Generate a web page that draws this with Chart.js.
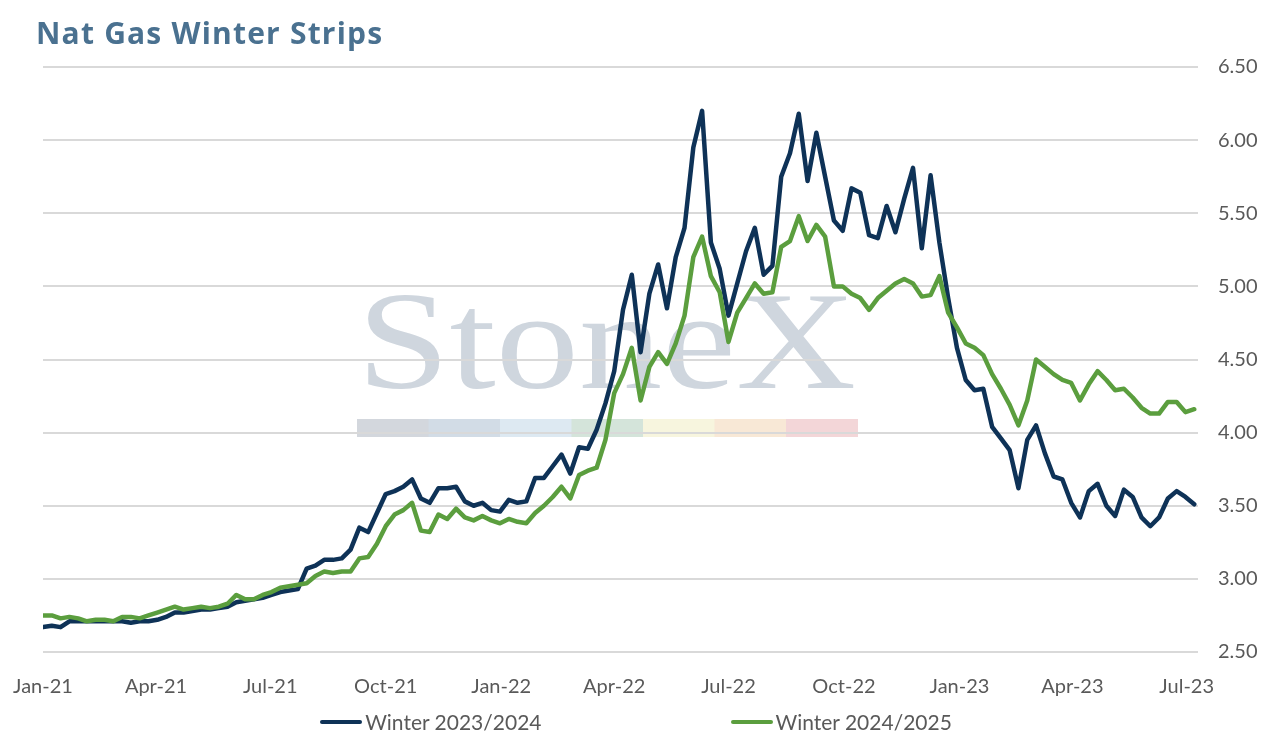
<!DOCTYPE html>
<html>
<head>
<meta charset="utf-8">
<title>Nat Gas Winter Strips</title>
<script src="https://cdn.jsdelivr.net/npm/chart.js@4.4.1/dist/chart.umd.min.js"></script>
<style>
    html, body { margin: 0; padding: 0; background: #fff; }
    #wrap { position: relative; width: 1272px; height: 743px; overflow: hidden; }
    #chart { position: absolute; left: 0; top: 0; }
    #title { position: absolute; left: 36px; top: 13px; margin: 0; font: 700 30px/40px "Open Sans", sans-serif; letter-spacing: 1.2px; color: #4a7190; white-space: nowrap; }
    #legend { position: absolute; left: 0; top: 709px; width: 1272px; display: flex; justify-content: center; gap: 189px; font: 21px Lato, sans-serif; color: #595959; }
    .item { display: flex; align-items: center; white-space: nowrap; }
    .swatch { width: 42px; height: 4px; border-radius: 2px; margin-right: 3px; }
</style>
</head>
<body>
<div id="wrap">
    <canvas id="chart" width="1272" height="743"></canvas>
    <h1 id="title">Nat Gas Winter Strips</h1>
    <div id="legend"></div>
</div>
<script>
// weekly closes, first week starting 1 Jan 2021
var firstDate = '2021-01-01';

var seriesNames = ['Winter 2023/2024', 'Winter 2024/2025'];
var seriesColors = ['#0e3257', '#5b9e3e'];

var winter2324 = [
    2.67, 2.68, 2.67, 2.71, 2.71, 2.71, 2.71, 2.71, 2.71, 2.71,
    2.70, 2.71, 2.71, 2.72, 2.74, 2.77, 2.77, 2.78, 2.79, 2.79,
    2.80, 2.81, 2.84, 2.85, 2.86, 2.87, 2.89, 2.91, 2.92, 2.93,
    3.07, 3.09, 3.13, 3.13, 3.14, 3.20, 3.35, 3.32, 3.45, 3.58,
    3.60, 3.63, 3.68, 3.55, 3.52, 3.62, 3.62, 3.63, 3.53, 3.50,
    3.52, 3.47, 3.46, 3.54, 3.52, 3.53, 3.69, 3.69, 3.77, 3.85,
    3.72, 3.90, 3.89, 4.02, 4.20, 4.42, 4.84, 5.08, 4.55, 4.95,
    5.15, 4.85, 5.20, 5.40, 5.95, 6.20, 5.30, 5.12, 4.80, 5.02,
    5.24, 5.40, 5.08, 5.14, 5.75, 5.91, 6.18, 5.72, 6.05, 5.75,
    5.45, 5.38, 5.67, 5.64, 5.35, 5.33, 5.55, 5.37, 5.60, 5.81,
    5.26, 5.76, 5.30, 4.92, 4.58, 4.36, 4.29, 4.30, 4.04, 3.96,
    3.88, 3.62, 3.95, 4.05, 3.86, 3.70, 3.68, 3.52, 3.42, 3.60,
    3.65, 3.50, 3.43, 3.61, 3.56, 3.42, 3.36, 3.42, 3.55, 3.60,
    3.56, 3.51
];

var winter2425 = [
    2.75, 2.75, 2.73, 2.74, 2.73, 2.71, 2.72, 2.72, 2.71, 2.74,
    2.74, 2.73, 2.75, 2.77, 2.79, 2.81, 2.79, 2.80, 2.81, 2.80,
    2.81, 2.83, 2.89, 2.86, 2.86, 2.89, 2.91, 2.94, 2.95, 2.96,
    2.97, 3.02, 3.05, 3.04, 3.05, 3.05, 3.14, 3.15, 3.24, 3.36,
    3.44, 3.47, 3.52, 3.33, 3.32, 3.44, 3.41, 3.48, 3.42, 3.40,
    3.43, 3.40, 3.38, 3.41, 3.39, 3.38, 3.45, 3.50, 3.56, 3.63,
    3.55, 3.71, 3.74, 3.76, 3.95, 4.27, 4.40, 4.58, 4.22, 4.45,
    4.55, 4.47, 4.61, 4.80, 5.20, 5.34, 5.07, 4.96, 4.62, 4.82,
    4.92, 5.02, 4.95, 4.96, 5.27, 5.31, 5.48, 5.31, 5.42, 5.34,
    5.00, 5.00, 4.95, 4.92, 4.84, 4.92, 4.97, 5.02, 5.05, 5.02,
    4.93, 4.94, 5.07, 4.82, 4.72, 4.61, 4.58, 4.53, 4.40, 4.30,
    4.19, 4.05, 4.22, 4.50, 4.45, 4.40, 4.36, 4.34, 4.22, 4.33,
    4.42, 4.36, 4.29, 4.30, 4.24, 4.17, 4.13, 4.13, 4.21, 4.21,
    4.14, 4.16
];

var tickDates = ['2021-01-01', '2021-04-01', '2021-07-01', '2021-10-01', '2022-01-01', '2022-04-01',
                 '2022-07-01', '2022-10-01', '2023-01-01', '2023-04-01', '2023-07-01'];
var tickLabels = ['Jan-21', 'Apr-21', 'Jul-21', 'Oct-21', 'Jan-22', 'Apr-22',
                  'Jul-22', 'Oct-22', 'Jan-23', 'Apr-23', 'Jul-23'];

var yTicks = [2.5, 3.0, 3.5, 4.0, 4.5, 5.0, 5.5, 6.0, 6.5];

var watermarkBars = ['#d3d7dd', '#d2dce6', '#dde9f2', '#d4e4da', '#f7f5de', '#f8e8d6', '#f3d6d8'];

function dayOf(s) {
    return (Date.parse(s) - Date.parse(firstDate)) / 86400000;
}

function toPoints(values) {
    return values.map(function(v, i) { return {x: i * 7, y: v}; });
}

var tickDays = tickDates.map(dayOf);

// StoneX logo behind the grid
var watermark = {
    id: 'watermark',
    beforeDraw: function(chart) {
        var ctx = chart.ctx;
        ctx.save();
        ctx.font = '140px "Liberation Serif", serif';
        var w = ctx.measureText('StoneX').width;
        ctx.translate(357, 388);
        ctx.scale(499 / w, 1);
        ctx.fillStyle = '#cfd6de';
        ctx.textBaseline = 'alphabetic';
        ctx.fillText('StoneX', 0, 0);
        ctx.restore();
        ctx.save();
        var bw = 500.5 / watermarkBars.length;
        watermarkBars.forEach(function(c, k) {
            ctx.fillStyle = c;
            ctx.fillRect(357 + k * bw, 419, bw + 0.5, 18);
        });
        ctx.restore();
    }
};

var legend = document.getElementById('legend');
seriesNames.forEach(function(name, k) {
    var d = document.createElement('div');
    d.className = 'item';
    d.innerHTML = '<span class="swatch" style="background:' + seriesColors[k] + '"></span><span>' + name + '</span>';
    legend.appendChild(d);
});

new Chart(document.getElementById('chart'), {
    type: 'line',
    data: {
        datasets: [
            {label: seriesNames[0], data: toPoints(winter2324), borderColor: seriesColors[0], backgroundColor: seriesColors[0],
             borderWidth: 4.5, pointRadius: 0, tension: 0, borderJoinStyle: 'round', borderCapStyle: 'round', order: 1},
            {label: seriesNames[1], data: toPoints(winter2425), borderColor: seriesColors[1], backgroundColor: seriesColors[1],
             borderWidth: 4.5, pointRadius: 0, tension: 0, borderJoinStyle: 'round', borderCapStyle: 'round', order: 0}
        ]
    },
    options: {
        responsive: false,
        animation: false,
        layout: { padding: {left: 43, right: 14, top: 67, bottom: 41} },
        plugins: {
            legend: { display: false },
            title: { display: false },
            tooltip: { enabled: false }
        },
        scales: {
            x: {
                type: 'linear',
                min: 0,
                max: 920,
                grid: { display: false },
                border: { display: false },
                afterBuildTicks: function(scale) {
                    scale.ticks = tickDays.map(function(d) { return {value: d}; });
                },
                afterFit: function(scale) {
                    scale.height = 50;
                    scale.paddingLeft = 0;
                    scale.paddingRight = 0;
                },
                ticks: {
                    autoSkip: false,
                    maxRotation: 0,
                    padding: 15,
                    color: '#595959',
                    font: { family: 'Lato', size: 20 },
                    callback: function(v) {
                        var k = tickDays.indexOf(v);
                        return k > -1 ? tickLabels[k] : '';
                    }
                }
            },
            y: {
                position: 'right',
                min: 2.5,
                max: 6.5,
                afterBuildTicks: function(scale) {
                    scale.ticks = yTicks.map(function(v) { return {value: v}; });
                },
                afterFit: function(scale) {
                    scale.width = 60;
                },
                grid: { color: '#d9d9d9', lineWidth: 2, drawTicks: false },
                border: { display: false },
                ticks: {
                    padding: 20,
                    color: '#595959',
                    font: { family: 'Lato', size: 20 },
                    callback: function(v) { return v.toFixed(2); }
                }
            }
        }
    },
    plugins: [watermark]
});
</script>
</body>
</html>
